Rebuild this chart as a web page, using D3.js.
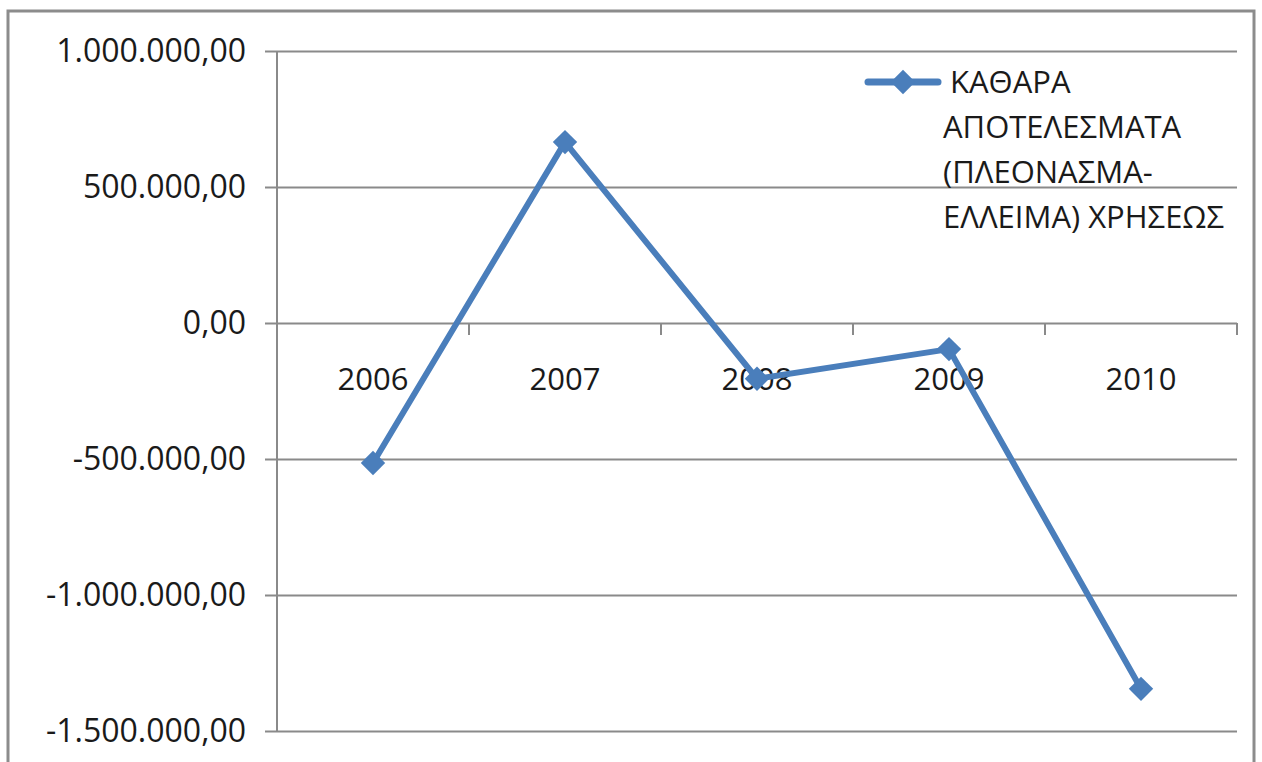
<!DOCTYPE html>
<html>
<head>
<meta charset="utf-8">
<script src="https://cdn.jsdelivr.net/npm/d3@7"></script>
<style>
  body { margin: 0; background: #fff; }
  text { font-family: "Open Sans", sans-serif; fill: #1a1a1a; }
</style>
</head>
<body>
<script>
// data
var years = ["2006", "2007", "2008", "2009", "2010"];
var results = [-515000, 665000, -205000, -96000, -1345000];
var yTicks = [1000000, 500000, 0, -500000, -1000000, -1500000];
var legendLines = ["ΚΑΘΑΡΑ", "ΑΠΟΤΕΛΕΣΜΑΤΑ", "(ΠΛΕΟΝΑΣΜΑ-", "ΕΛΛΕΙΜΑ) ΧΡΗΣΕΩΣ"];

var svgWidth = 1262, svgHeight = 762;
var margin = { top: 51, left: 277 };
var chartwidth = 960, chartheight = 680;
var blue = "#4a7ebb", grey = "#8a8a8a";

var svg = d3.select("body").append("svg")
  .attr("width", svgWidth)
  .attr("height", svgHeight);

// outer frame
svg.append("rect")
  .attr("x", 8).attr("y", 11)
  .attr("width", 1246).attr("height", 800)
  .attr("fill", "none")
  .attr("stroke", "#8c8c8c")
  .attr("stroke-width", 3);

var chartGroup = svg.append("g")
  .attr("transform", `translate(${margin.left}, ${margin.top})`);

var xBand = d3.scaleBand().domain(years).range([0, chartwidth]);
var yScale = d3.scaleLinear().domain([-1500000, 1000000]).range([chartheight, 0]);

var locale = d3.formatLocale({ decimal: ",", thousands: ".", grouping: [3], currency: ["", ""], minus: "-" });
var fmt = locale.format(",.2f");

// gridlines + y labels
var leftAxis = d3.axisLeft(yScale)
  .tickValues(yTicks)
  .tickFormat(fmt)
  .tickSize(-chartwidth - 12)
  .tickPadding(19);

var yAxisG = chartGroup.append("g")
  .attr("transform", "translate(-12,0)")
  .call(leftAxis);
yAxisG.select(".domain").remove();
yAxisG.selectAll(".tick line").attr("stroke", grey).attr("stroke-width", 2);
yAxisG.selectAll(".tick text").attr("font-size", 32).attr("fill", "#1a1a1a");

// vertical axis line
chartGroup.append("line")
  .attr("x1", 0).attr("x2", 0)
  .attr("y1", 0).attr("y2", chartheight)
  .attr("stroke", grey).attr("stroke-width", 2);

// category axis on zero line
var bottomAxis = d3.axisBottom(xBand).tickSize(0).tickPadding(0);
var xAxisG = chartGroup.append("g")
  .attr("transform", `translate(0, ${yScale(0)})`)
  .call(bottomAxis);
xAxisG.select(".domain").remove();
xAxisG.selectAll(".tick text")
  .attr("font-size", 31)
  .attr("fill", "#1a1a1a")
  .attr("dy", null)
  .attr("y", 67);

// tick marks between categories
chartGroup.selectAll(".cattick")
  .data(years)
  .enter().append("line")
  .attr("x1", d => xBand(d) + xBand.bandwidth())
  .attr("x2", d => xBand(d) + xBand.bandwidth())
  .attr("y1", yScale(0))
  .attr("y2", yScale(0) + 12)
  .attr("stroke", grey).attr("stroke-width", 2);

var line = d3.line()
  .x((d, i) => xBand(years[i]) + xBand.bandwidth() / 2)
  .y(d => yScale(d));

chartGroup.append("path")
  .datum(results)
  .attr("d", line)
  .attr("fill", "none")
  .attr("stroke", blue)
  .attr("stroke-width", 6)
  .attr("stroke-linejoin", "round");

var diamond = d3.symbol().type(d3.symbolDiamond2).size(380);
chartGroup.selectAll(".marker")
  .data(results)
  .enter().append("path")
  .attr("transform", (d, i) => `translate(${xBand(years[i]) + xBand.bandwidth() / 2}, ${yScale(d)})`)
  .attr("d", diamond)
  .attr("fill", blue);

// legend
var legend = svg.append("g").attr("transform", "translate(868, 82)");
legend.append("line")
  .attr("x1", 0).attr("x2", 70)
  .attr("stroke", blue).attr("stroke-width", 7)
  .attr("stroke-linecap", "round");
legend.append("path")
  .attr("transform", "translate(35,0)")
  .attr("d", diamond)
  .attr("fill", blue);

legend.append("text")
  .attr("font-size", 31)
  .selectAll("tspan")
  .data(legendLines)
  .enter().append("tspan")
  .attr("x", (d, i) => i === 0 ? 82 : 75)
  .attr("y", (d, i) => i * 45 + 11)
  .text(d => d);
</script>
</body>
</html>
